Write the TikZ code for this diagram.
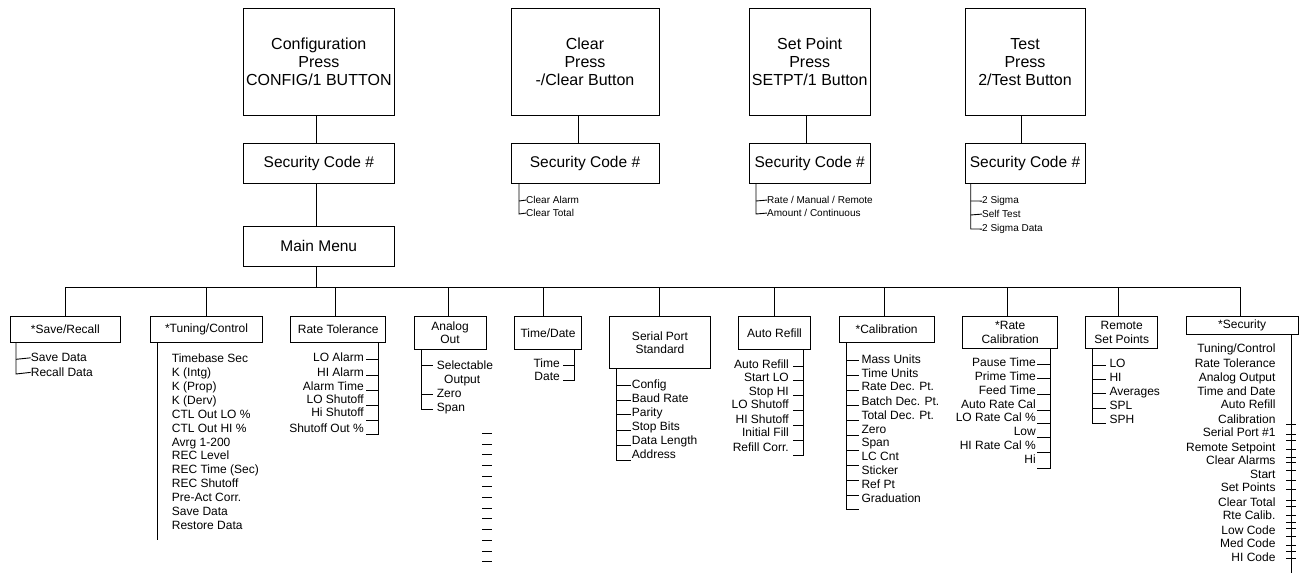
\documentclass[tikz,border=0pt]{standalone}
\usepackage{fontspec}
\setmainfont{Liberation Sans}
\begin{document}
\begin{tikzpicture}[x=1pt,y=-1pt,
  ln/.style={line width=0.9pt},
  box/.style={draw, line width=0.9pt, inner sep=0pt, align=center},
  bigbox/.style={box, font=\fontsize{16}{18}\selectfont},
  seccode/.style={box, font=\fontsize{15.5}{18}\selectfont},
  lvbox/.style={box, font=\fontsize{12}{13.3}\selectfont},
  itm/.style={inner sep=0pt, font=\fontsize{12}{14}\selectfont},
  sml/.style={inner sep=0pt, font=\fontsize{10}{12}\selectfont},
]
\useasboundingbox (0,0) rectangle (1303,573);

% ---------- top row ----------
\node[bigbox, minimum width=151pt, minimum height=106.7pt] (cfg) at (318.8,61.7) {Configuration\\Press\\CONFIG/1 BUTTON};
\node[bigbox, minimum width=148pt, minimum height=106.7pt] (clr) at (585,61.7) {Clear\\Press\\-/Clear Button};
\node[bigbox, minimum width=120.7pt, minimum height=106.7pt] (spt) at (809.7,61.7) {Set Point\\Press\\SETPT/1 Button};
\node[bigbox, minimum width=120pt, minimum height=106.7pt] (tst) at (1025,61.7) {Test\\Press\\2/Test Button};

\node[seccode, minimum width=151pt, minimum height=40pt] (cfgs) at (318.8,163.3) {Security Code \#};
\node[seccode, minimum width=148pt, minimum height=40pt] (clrs) at (585,163.3) {Security Code \#};
\node[seccode, minimum width=120.7pt, minimum height=40pt] (spts) at (809.7,163.3) {Security Code \#};
\node[seccode, minimum width=120pt, minimum height=40pt] (tsts) at (1025,163.3) {Security Code \#};

\node[seccode, minimum width=151pt, minimum height=39.3pt] (mm) at (318.8,246.3) {Main Menu};

\draw[ln] (cfg.south -| 316.5,0) -- (cfgs.north -| 316.5,0);
\draw[ln] (cfgs.south -| 316.5,0) -- (mm.north -| 316.5,0);
\draw[ln] (clr.south -| 578.7,0) -- (clrs.north -| 578.7,0);
\draw[ln] (spt.south -| 806,0) -- (spts.north -| 806,0);
\draw[ln] (tst.south -| 1021,0) -- (tsts.north -| 1021,0);

% top sub-lists
\node[sml, anchor=mid west] (clr1) at (526,201) {Clear Alarm};
\node[sml, anchor=mid west] (clr2) at (526,214) {Clear Total};
\draw[ln] (clrs.south -| 519,0) -- (519,214) -- (clr2.west);
\draw[ln] (519,201) -- (clr1.west);

\node[sml, anchor=mid west] (spt1) at (767,201) {Rate / Manual / Remote};
\node[sml, anchor=mid west] (spt2) at (767,214) {Amount / Continuous};
\draw[ln] (spts.south -| 756,0) -- (756,214) -- (spt2.west);
\draw[ln] (756,201) -- (spt1.west);

\node[sml, anchor=mid west] (tst1) at (982,201) {2 Sigma};
\node[sml, anchor=mid west] (tst2) at (982,215) {Self Test};
\node[sml, anchor=mid west] (tst3) at (982,229) {2 Sigma Data};
\draw[ln] (tsts.south -| 970.7,0) -- (970.7,229) -- (tst3.west);
\draw[ln] (970.7,201) -- (tst1.west);
\draw[ln] (970.7,215) -- (tst2.west);

% ---------- bus ----------
\coordinate (busL) at (65.7,287.3);
\coordinate (busR) at (1240.7,287.3);
\draw[ln] (mm.south -| 316.7,0) -- (316.7,287.3);
\draw[ln] (busL) -- (busR);

% ---------- level 2 boxes ----------
\node[lvbox, minimum width=110.7pt, minimum height=26pt] (sr) at (65.35,329.7) {*Save/Recall};
\node[lvbox, minimum width=111.6pt, minimum height=26pt] (tc) at (206.5,329.7) {*Tuning/Control};
\node[lvbox, minimum width=95pt, minimum height=26pt] (rt) at (338.2,329.7) {Rate Tolerance};
\node[lvbox, minimum width=72pt, minimum height=32.3pt] (ao) at (450,332.85) {Analog\\Out};
\node[lvbox, minimum width=67.4pt, minimum height=32.3pt] (td) at (548,332.85) {Time/Date};
\node[lvbox, minimum width=101.4pt, minimum height=51.6pt] (sp) at (660,342.5) {Serial Port\\Standard};
\node[lvbox, minimum width=72.4pt, minimum height=32.3pt] (ar) at (774.5,332.85) {Auto Refill};
\node[lvbox, minimum width=95.3pt, minimum height=26pt] (cal) at (886.65,329.7) {*Calibration};
\node[lvbox, minimum width=95pt, minimum height=31.6pt] (rc) at (1010.2,332.5) {*Rate\\Calibration};
\node[lvbox, minimum width=72pt, minimum height=31.6pt] (rs) at (1121.7,332.5) {Remote\\Set Points};
\node[lvbox, minimum width=112.3pt, minimum height=17.3pt] (sec) at (1242.15,325.35) {*Security};

\foreach \n/\x in {sr/65.7, tc/206.7, rt/335.7, ao/448.3, td/543.3, sp/659, ar/774, cal/884, rc/1007.3, rs/1118.7, sec/1240.7}
  \draw[ln] (\x,287.3) -- (\n.north -| \x,0);

% ---------- Save/Recall ----------
\node[itm, anchor=mid west] (sr1) at (30.7,359.3) {Save Data};
\node[itm, anchor=mid west] (sr2) at (30.7,374) {Recall Data};
\draw[ln] (sr.south -| 16,0) -- (16,374) -- (sr2.west);
\draw[ln] (16,359.3) -- (sr1.west);

% ---------- Tuning/Control ----------
\foreach \t [count=\i from 0] in {Timebase Sec, K (Intg), K (Prop), K (Derv), CTL Out LO \%, CTL Out HI \%, Avrg 1-200, REC Level, REC Time (Sec), REC Shutoff, Pre-Act Corr., Save Data, Restore Data}
  \node[itm, anchor=mid west] (tc\i) at (171.7,360+13.9*\i) {\t};
\draw[ln] (tc.south -| 157.3,0) -- (157.3,540);

% ---------- Rate Tolerance ----------
\foreach \t/\y [count=\i] in {LO Alarm/359.3, HI Alarm/374, Alarm Time/387.7, LO Shutoff/401, Hi Shutoff/414.3, Shutoff Out \%/430}
  \node[itm, anchor=mid east] (rt\i) at (364,\y) {\t};
\draw[ln] (rt.south -| 378.3,0) -- (378.3,434.3) -- (366,434.3);
\foreach \y in {359,375,390,405,420} \draw[ln] (378.3,\y) -- (366,\y);

% ---------- Analog Out ----------
\node[itm, anchor=mid west] (ao1) at (436.7,367.3) {Selectable};
\node[itm, anchor=mid west] (ao2) at (444,380.7) {Output};
\node[itm, anchor=mid west] (ao3) at (436.7,395) {Zero};
\node[itm, anchor=mid west] (ao4) at (436.7,408.7) {Span};
\draw[ln] (ao.south -| 421,0) -- (421,409.3) -- (432.7,409.3);
\draw[ln] (421,365) -- (432.7,365);
\draw[ln] (421,394.3) -- (432.7,394.3);
\foreach \i in {0,...,12} \draw[ln] (482.3,433.3+10.7*\i) -- (491.7,433.3+10.7*\i);

% ---------- Time/Date ----------
\node[itm, anchor=mid east] (td1) at (560,365) {Time};
\node[itm, anchor=mid east] (td2) at (560,377.7) {Date};
\draw[ln] (td.south -| 574.3,0) -- (574.3,380) -- (562.7,380);
\draw[ln] (574.3,365.7) -- (562.7,365.7);

% ---------- Serial Port ----------
\foreach \t/\y [count=\i] in {Config/386, Baud Rate/400, Parity/414, Stop Bits/427.7, Data Length/442, Address/456}
  \node[itm, anchor=mid west] (sp\i) at (631.7,\y) {\t};
\draw[ln] (sp.south -| 616.7,0) -- (616.7,460) -- (630.7,460);
\foreach \y in {385.7,400,414,430,445} \draw[ln] (616.7,\y) -- (630.7,\y);

% ---------- Auto Refill ----------
\foreach \t/\y [count=\i] in {Auto Refill/366, Start LO/379, Stop HI/393.3, LO Shutoff/406.3, HI Shutoff/420.7, Initial Fill/434.3, Refill Corr./449.3}
  \node[itm, anchor=mid east] (ar\i) at (789,\y) {\t};
\draw[ln] (ar.south -| 803.7,0) -- (803.7,455.7) -- (792.7,455.7);
\foreach \y in {366,380.7,395.7,410.7,425.7,440.7} \draw[ln] (803.7,\y) -- (792.7,\y);

% ---------- Calibration ----------
\foreach \t/\y [count=\i] in {Mass Units/360.7, Time Units/375, Rate Dec. Pt./388.3, Batch Dec. Pt./402.7, Total Dec. Pt./416.7, Zero/431, Span/444, LC Cnt/458, Sticker/472, Ref Pt/486, Graduation/500}
  \node[itm, anchor=mid west] (cal\i) at (861.3,\y) {\t};
\draw[ln] (cal.south -| 846,0) -- (846,509.3) -- (859.3,509.3);
\foreach \y in {360.7,375.7,390.7,405.7,420.7,435.7,450.7,465,480,495} \draw[ln] (846,\y) -- (859.3,\y);

% ---------- Rate Calibration ----------
\foreach \t/\y [count=\i] in {Pause Time/364, Prime Time/378, Feed Time/392, Auto Rate Cal/405.7, LO Rate Cal \%/419.3, Low/432.7, HI Rate Cal \%/447.3, Hi/461}
  \node[itm, anchor=mid east] (rc\i) at (1036,\y) {\t};
\draw[ln] (rc.south -| 1050,0) -- (1050,468.3) -- (1037.3,468.3);
\foreach \y in {364,378.3,394,410,423.3,437.3,452.7} \draw[ln] (1050,\y) -- (1037.3,\y);

% ---------- Remote Set Points ----------
\foreach \t/\y [count=\i] in {LO/365, HI/378.7, Averages/393.3, SPL/406.7, SPH/420.7}
  \node[itm, anchor=mid west] (rs\i) at (1109.3,\y) {\t};
\draw[ln] (rs.south -| 1092.7,0) -- (1092.7,423.3) -- (1105.7,423.3);
\foreach \y in {365,379.3,393.3,408.3} \draw[ln] (1092.7,\y) -- (1105.7,\y);

% ---------- Security ----------
\foreach \t/\y [count=\i] in {{Tuning/Control}/350, Rate Tolerance/365, Analog Output/379, Time and Date/392.7, Auto Refill/405.7, Calibration/421, Serial Port \#1/434, Remote Setpoint/449, Clear Alarms/461.7, Start/476, Set Points/489.3, Clear Total/504, Rte Calib./517.3, Low Code/531.7, Med Code/545, HI Code/559}
  \node[itm, anchor=mid east] (sc\i) at (1275.7,\y) {\t};
\coordinate (secEnd) at (1291.7,573);
\draw[ln] (sec.south -| 1291.7,0) -- (secEnd);
\foreach \y in {424,434,440,449,457,462,470,480,489,500,506,515,522,528,536,545,551,558}
  \draw[ln] (1286,\y) -- (1296,\y);
\end{tikzpicture}
\end{document}
